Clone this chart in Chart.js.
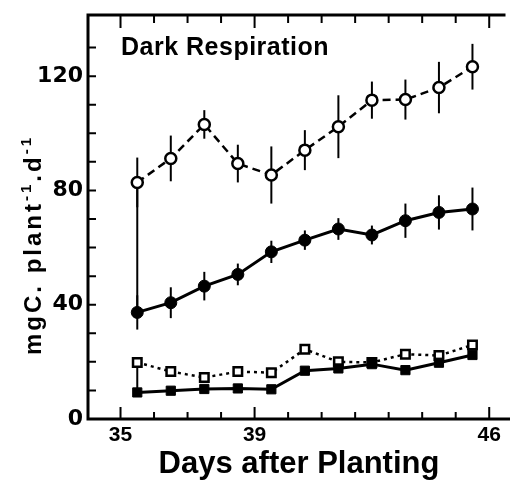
<!DOCTYPE html>
<html><head><meta charset="utf-8">
<script src="https://cdn.jsdelivr.net/npm/chart.js@4.4.0/dist/chart.umd.min.js"></script>
<style>html,body{margin:0;padding:0;background:#fff;} #wrap{width:510px;height:483px;position:relative;}</style>
</head><body><div id="wrap"><canvas id="c"></canvas></div>
<script>
// ---- data ----
const days = [35.5, 36.5, 37.5, 38.5, 39.5, 40.5, 41.5, 42.5, 43.5, 44.5, 45.5];
const openCircle     = [82.8, 91.2, 103.1, 89.4, 85.4, 94.1, 102.3, 111.6, 111.8, 116.0, 123.3];
const openCircleErr  = [8.7, 8.0, 5.0, 6.6, 10.0, 7.0, 11.0, 6.5, 7.0, 9.0, 8.0];
const filledCircle   = [37.3, 40.7, 46.5, 50.6, 58.5, 62.6, 66.5, 64.4, 69.4, 72.3, 73.5];
const filledCircleErr= [6.0, 5.4, 5.0, 3.8, 3.9, 3.4, 3.8, 3.3, 6.0, 6.0, 7.5];
const openSquare     = [19.8, 16.6, 14.5, 16.6, 16.2, 24.4, 20.0, 19.8, 22.7, 22.2, 25.9];
const filledSquare   = [9.3, 9.9, 10.5, 10.7, 10.4, 16.9, 17.7, 19.2, 17.1, 19.7, 22.4];

const xTickValues = [35, 36, 37, 38, 39, 40, 41, 42, 43, 44, 45, 46];
const xTickLabels = [35, 39, 46];
const yTickValues = [0, 10, 20, 30, 40, 50, 60, 70, 80, 90, 100, 110, 120, 130];
const yTickLabels = [0, 40, 80, 120];

const chartTitle = 'Dark Respiration';
const xTitle = 'Days after Planting';
const yTitleParts = [['mgC. plant', false], ['-1', true], ['.d', false], ['-1', true]];

// ---- helpers ----
const pts = arr => arr.map((v, i) => ({x: days[i], y: v}));

const decor = {
  id: 'decor',
  beforeDatasetsDraw(chart) {
    const {ctx, scales: {x, y}} = chart;
    ctx.save();
    ctx.strokeStyle = '#000';
    ctx.lineWidth = 2;
    [[openCircle, openCircleErr], [filledCircle, filledCircleErr]].forEach(([vals, errs]) => {
      vals.forEach((v, i) => {
        const px = x.getPixelForValue(days[i]);
        ctx.beginPath();
        ctx.moveTo(px, y.getPixelForValue(v - errs[i]));
        ctx.lineTo(px, y.getPixelForValue(v + errs[i]));
        ctx.stroke();
      });
    });
    ctx.restore();
  },
  afterDraw(chart) {
    const {ctx, chartArea: a, scales: {x, y}} = chart;
    ctx.save();
    ctx.strokeStyle = '#000';
    ctx.lineCap = 'square';
    ctx.lineWidth = 3;
    ctx.beginPath();
    ctx.moveTo(a.left, a.top); ctx.lineTo(a.left, a.bottom); ctx.lineTo(a.right, a.bottom);
    ctx.moveTo(a.left, a.top); ctx.lineTo(a.right - 6, a.top);
    ctx.stroke();
    ctx.lineWidth = 2;
    ctx.lineCap = 'butt';
    ctx.beginPath();
    xTickValues.forEach(v => {
      const px = x.getPixelForValue(v);
      const big = xTickLabels.includes(v);
      ctx.moveTo(px, a.bottom); ctx.lineTo(px, a.bottom - (big ? 12 : 7));
      ctx.moveTo(px, a.top); ctx.lineTo(px, a.top + (big ? 13 : 8));
    });
    yTickValues.forEach(v => {
      const py = y.getPixelForValue(v);
      ctx.moveTo(a.left, py); ctx.lineTo(a.left + 8, py);
    });
    ctx.stroke();

    // in-plot title
    ctx.fillStyle = '#000';
    ctx.font = 'bold 25px "Liberation Sans"';
    ctx.textBaseline = 'alphabetic';
    ctx.textAlign = 'left';
    ctx.letterSpacing = '0.5px';
    ctx.fillText(chartTitle, a.left + 33, 55);

    // y axis title (rotated, with superscripts)
    ctx.letterSpacing = '3px';
    const big = 'bold 24px "Liberation Sans"', small = 'bold 15px "Liberation Sans"';
    let total = 0;
    yTitleParts.forEach(([t, sup]) => { ctx.font = sup ? small : big; total += ctx.measureText(t).width; });
    ctx.translate(41, 245);
    ctx.rotate(-Math.PI / 2);
    let cx = -total / 2;
    yTitleParts.forEach(([t, sup]) => {
      ctx.font = sup ? small : big;
      ctx.fillText(t, cx, sup ? -10 : 0);
      cx += ctx.measureText(t).width;
    });
    ctx.restore();
  }
};

const ds = (data, o) => Object.assign({data: pts(data), borderColor: '#000', pointBorderColor: '#000', showLine: true, tension: 0}, o);

new Chart(document.getElementById('c'), {
  type: 'line',
  data: {
    datasets: [
      {data: [{x: days[0], y: openCircle[0]}, {x: days[0], y: filledCircle[0]}], borderColor: '#000', borderWidth: 2, pointRadius: 0, order: 10},
      {data: [{x: days[0], y: openSquare[0]}, {x: days[0], y: filledSquare[0]}], borderColor: '#000', borderWidth: 2, pointRadius: 0, order: 10},
      ds(openCircle, {borderWidth: 2.5, borderDash: [8, 5], pointStyle: 'circle', pointRadius: 5.5, pointBorderWidth: 2.5, pointBackgroundColor: '#fff', order: 2}),
      ds(filledCircle, {borderWidth: 3, pointStyle: 'circle', pointRadius: 6, pointBorderWidth: 1, pointBackgroundColor: '#000', order: 1}),
      ds(openSquare, {borderWidth: 2.5, borderDash: [3, 4], pointStyle: 'rect', pointRadius: 6, pointBorderWidth: 2.5, pointBackgroundColor: '#fff', order: 4}),
      ds(filledSquare, {borderWidth: 3, pointStyle: 'rect', pointRadius: 6.5, pointBorderWidth: 1, pointBackgroundColor: '#000', order: 3})
    ]
  },
  options: {
    responsive: true,
    maintainAspectRatio: false,
    animation: false,
    events: [],
    layout: {autoPadding: false, padding: {top: 15, right: 0, left: 0, bottom: 0}},
    plugins: {legend: {display: false}, tooltip: {enabled: false}, title: {display: false}},
    scales: {
      x: {
        type: 'linear', min: 34.03, max: 46.62,
        afterBuildTicks: s => { s.ticks = xTickValues.map(v => ({value: v})); },
        afterFit: s => { s.height = 64; s.paddingLeft = 0; s.paddingRight = 0; },
        grid: {display: false, drawTicks: false},
        border: {display: false},
        ticks: {
          padding: 4, color: '#000', maxRotation: 0, autoSkip: false,
          font: {family: 'Liberation Sans', size: 21, weight: 'bold'},
          callback: v => xTickLabels.includes(v) ? String(v) : ''
        },
        title: {display: true, text: xTitle, color: '#000', padding: {top: 0, bottom: 0},
          font: {family: 'Liberation Sans', size: 31, weight: 'bold'}}
      },
      y: {
        type: 'linear', min: 0, max: 141.4,
        afterBuildTicks: s => { s.ticks = yTickValues.map(v => ({value: v})); },
        afterFit: s => { s.width = 88; s.paddingTop = 0; s.paddingBottom = 0; },
        grid: {display: false, drawTicks: false},
        border: {display: false},
        ticks: {
          padding: 5, color: '#000', autoSkip: false,
          font: {family: 'DejaVu Sans', size: 22, weight: 'bold'},
          callback: v => yTickLabels.includes(v) ? String(v) : ''
        }
      }
    }
  },
  plugins: [decor]
});
</script>
</body></html>
